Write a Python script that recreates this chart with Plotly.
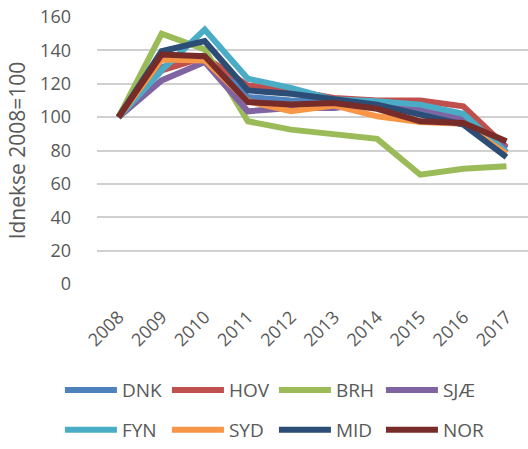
import plotly.graph_objects as go

years = ["2008", "2009", "2010", "2011", "2012", "2013", "2014", "2015", "2016", "2017"]
DNK = [100, 130, 137, 112, 110, 109, 108, 104, 99, 79]
HOV = [100, 128, 136, 119, 116, 111.5, 110, 110, 106.5, 82]
BRH = [100, 150, 140.5, 97.5, 92.5, 90, 87, 65.5, 69, 70.5]
SJAE = [100, 122, 133, 103.5, 105.5, 105.5, 108.5, 105.5, 99, 81]
FYN = [100, 128, 152.5, 123, 117.5, 110.5, 109.5, 107.5, 102, 79]
SYD = [100, 134.5, 134, 109.5, 103.5, 107, 100.5, 97, 96, 78]
MID = [100, 139.5, 145.5, 116, 114, 111, 107.5, 101.5, 95.5, 76]
NOR = [100, 137.5, 136.5, 109, 107.5, 108.5, 105, 97.5, 96.5, 85.5]

series = [
    ("DNK", DNK, "#4F81BD"),
    ("HOV", HOV, "#C0504D"),
    ("BRH", BRH, "#9BBB59"),
    ("SJÆ", SJAE, "#8064A2"),
    ("FYN", FYN, "#4BACC6"),
    ("SYD", SYD, "#F79646"),
    ("MID", MID, "#2C4D75"),
    ("NOR", NOR, "#772C2A"),
]

fig = go.Figure()
for i, (name, vals, col) in enumerate(series):
    fig.add_trace(go.Scatter(x=years, y=vals, name=name, mode="lines",
                             line=dict(color=col, width=6),
                             legend="legend" if i < 4 else "legend2"))

font_family = "Open Sans, Liberation Sans, Arial, sans-serif"
leg_common = dict(orientation="h", xanchor="left", yanchor="middle",
                  entrywidth=40, itemwidth=52, font=dict(size=19, color="#595959"),
                  bgcolor="rgba(0,0,0,0)")
fig.update_layout(
    template="none",
    width=528, height=449,
    margin=dict(l=97, r=0, t=17, b=164),
    plot_bgcolor="white", paper_bgcolor="white",
    font=dict(family=font_family, color="#595959", size=18),
    showlegend=True,
    legend=dict(x=-0.086, y=-0.392, **leg_common),
    legend2=dict(x=-0.086, y=-0.549, **leg_common),
    xaxis=dict(type="category", tickangle=-45, showgrid=False, showline=False,
               zeroline=False, ticks="", tickfont=dict(size=18), range=[-0.5, 9.5],
               ticklabelstandoff=18, automargin=False),
    yaxis=dict(range=[0, 160], dtick=20, tick0=0, showgrid=True,
               gridcolor="#D0D0D0", gridwidth=2, zeroline=False, showline=False,
               ticks="", tickfont=dict(size=18), ticklabelstandoff=25,
               automargin=False, ticklabeloverflow="allow",
               title=dict(text="Idnekse 2008=100", font=dict(size=21), standoff=8)),
)
fig.write_html("out.html", config={"displayModeBar": False},
               post_script="document.body.style.margin='0';")
